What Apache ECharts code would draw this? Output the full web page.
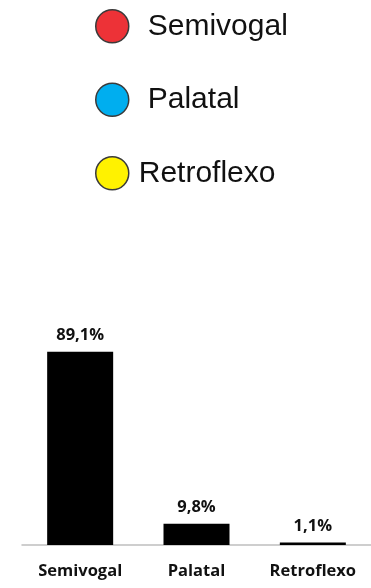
<!DOCTYPE html>
<html>
<head>
<meta charset="utf-8">
<script src="https://cdn.jsdelivr.net/npm/echarts@6/dist/echarts.min.js"></script>
<style>html,body{margin:0;padding:0;background:#fff;}#c{width:371px;height:588px;}</style>
</head>
<body>
<div id="c"></div>
<script>
const categories = ['Semivogal', 'Palatal', 'Retroflexo'];
const values = [89.1, 9.8, 1.1];
const legendColors = ['#ED3237', '#00AEEF', '#FFF200'];

const chart = echarts.init(document.getElementById('c'), null, {renderer: 'canvas'});
const series = categories.map((c, i) => ({
  name: c,
  type: 'bar',
  stack: 'all',
  barWidth: 66,
  data: values.map((v, j) => j === i ? v : '-'),
  itemStyle: {color: '#000'},
  label: {
    show: true,
    position: 'top',
    distance: 8,
    formatter: p => String(p.value).replace('.', ',') + '%',
    fontFamily: 'Open Sans',
    fontWeight: 'bold',
    fontSize: 16.5,
    color: '#111'
  }
}));

chart.setOption({
  animation: false,
  backgroundColor: '#fff',
  legend: {
    orient: 'vertical',
    left: 90,
    top: 4,
    itemWidth: 33,
    itemHeight: 33,
    itemGap: 39,
    icon: 'circle',
    textStyle: {fontFamily: 'Liberation Sans', fontSize: 30, color: '#111', padding: [0, 0, 0, 14]},
    data: categories.map((c, i) => ({
      name: c,
      itemStyle: {color: legendColors[i], borderColor: '#3a3a3a', borderWidth: 1.5},
      textStyle: i === 2 ? {padding: [0, 0, 0, 5]} : undefined
    }))
  },
  grid: {left: 22, top: 328, width: 355, height: 217, containLabel: false},
  xAxis: {
    type: 'category',
    data: categories,
    axisLine: {lineStyle: {color: '#bfbfbf', width: 1.5}},
    axisTick: {show: false},
    axisLabel: {
      margin: 18,
      fontFamily: 'Open Sans',
      fontWeight: 'bold',
      fontSize: 16.5,
      color: '#111'
    }
  },
  yAxis: {
    type: 'value',
    min: 0,
    max: 100,
    show: false
  },
  series: series
});
</script>
</body>
</html>
